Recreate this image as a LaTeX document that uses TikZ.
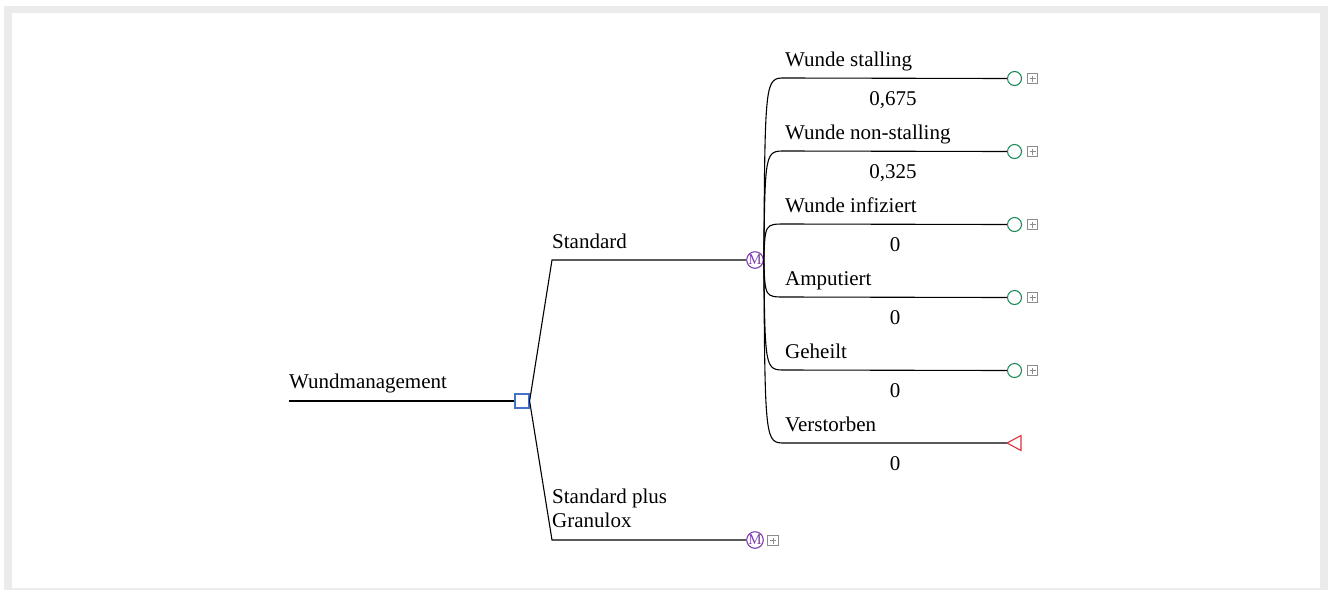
\documentclass[tikz,border=0pt]{standalone}
\usepackage{fontspec}
\setmainfont{Liberation Serif}
\definecolor{decblue}{RGB}{68,114,196}
\definecolor{mpurple}{RGB}{128,64,176}
\definecolor{cgreen}{RGB}{30,140,90}
\definecolor{tred}{RGB}{220,50,60}
\definecolor{framegray}{RGB}{235,235,235}
\definecolor{boxgray}{RGB}{140,140,140}
\begin{document}
\begin{tikzpicture}[x=1pt,y=-1pt,
  lbl/.style={font=\fontsize{21}{24}\selectfont, inner sep=0pt, anchor=base west},
  prob/.style={font=\fontsize{21}{24}\selectfont, inner sep=0pt, anchor=base},
  edge/.style={draw=black, line width=1.1pt},
  decision/.style={rectangle, draw=decblue, fill=white, line width=1.2pt, minimum size=14pt, inner sep=0pt},
  markov/.style={circle, draw=mpurple, line width=1.1pt, minimum size=13pt, inner sep=0pt, text=mpurple, font=\fontsize{15}{15}\selectfont},
  chance/.style={circle, draw=cgreen, line width=1.1pt, minimum size=14pt, inner sep=0pt},
  terminal/.style={draw=tred, line width=1.1pt},
  plusbox/.style={rectangle, draw=boxgray, line width=0.8pt, minimum size=10.5pt, inner sep=0pt,
    path picture={\draw[boxgray, line width=0.8pt]
      ([xshift=-3pt]path picture bounding box.center) -- ([xshift=3pt]path picture bounding box.center)
      ([yshift=-3pt]path picture bounding box.center) -- ([yshift=3pt]path picture bounding box.center);}}
]
% frame
\useasboundingbox (0,0) rectangle (1328,590);
\fill[white] (0,0) rectangle (1328,590);
\fill[framegray] (4,6) rectangle (1328,590);
\fill[white] (12,13) rectangle (1320,588);

% root
\coordinate (rs) at (289,401);
\node[lbl] (lroot) at (289,388) {Wundmanagement};
\node[decision] (dec) at (522,401) {};
\draw[edge] (rs) -- (dec.west);

% strategies
\coordinate (s1) at (552,260);
\coordinate (s2) at (552,540);
\node[markov] (m1) at (755,260) {M};
\node[markov] (m2) at (755,540) {M};
\node[plusbox] (pm2) at (773,540.5) {};
\draw[edge] (dec.east) -- (s1) -- (m1.west);
\draw[edge] (dec.east) -- (s2) -- (m2.west);
\node[lbl] (lstd) at (552,248) {Standard};
\node[lbl] (lsp1) at (552,503) {Standard plus};
\node[lbl] (lsp2) at (552,527) {Granulox};

% branches
\coordinate (b1) at (785,78);
\coordinate (b2) at (785,151);
\coordinate (b3) at (785,224);
\coordinate (b4) at (785,297);
\coordinate (b5) at (785,370);
\coordinate (b6) at (785,443);

\node[chance] (c1) at (1014.5,78.5) {};
\node[chance] (c2) at (1014.5,151.5) {};
\node[chance] (c3) at (1014.5,224.5) {};
\node[chance] (c4) at (1014.5,297.5) {};
\node[chance] (c5) at (1014.5,370.5) {};
\coordinate (t6) at (1007,443);

\node[plusbox] (p1) at (1032.5,78.5) {};
\node[plusbox] (p2) at (1032.5,151.5) {};
\node[plusbox] (p3) at (1032.5,224.5) {};
\node[plusbox] (p4) at (1032.5,297.5) {};
\node[plusbox] (p5) at (1032.5,370.5) {};

\draw[edge] (m1.east) .. controls (765,78) .. (b1) -- (c1.west);
\draw[edge] (m1.east) .. controls (765,151) .. (b2) -- (c2.west);
\draw[edge] (m1.east) .. controls (765,224) .. (b3) -- (c3.west);
\draw[edge] (m1.east) .. controls (765,297) .. (b4) -- (c4.west);
\draw[edge] (m1.east) .. controls (765,370) .. (b5) -- (c5.west);
\draw[edge] (m1.east) .. controls (765,443) .. (b6) -- (t6);
\draw[terminal] (t6) -- ++(14,-7.5) -- ++(0,15) -- cycle;

\node[lbl] (n1) at (785,66) {Wunde stalling};
\node[lbl] (n2) at (785,139) {Wunde non-stalling};
\node[lbl] (n3) at (785,212) {Wunde infiziert};
\node[lbl] (n4) at (785,285) {Amputiert};
\node[lbl] (n5) at (785,358) {Geheilt};
\node[lbl] (n6) at (785,431) {Verstorben};

\node[prob] (q1) at (893,105) {0,675};
\node[prob] (q2) at (893,178) {0,325};
\node[prob] (q3) at (895,251) {0};
\node[prob] (q4) at (895,324) {0};
\node[prob] (q5) at (895,397) {0};
\node[prob] (q6) at (895,470) {0};
\end{tikzpicture}
\end{document}
